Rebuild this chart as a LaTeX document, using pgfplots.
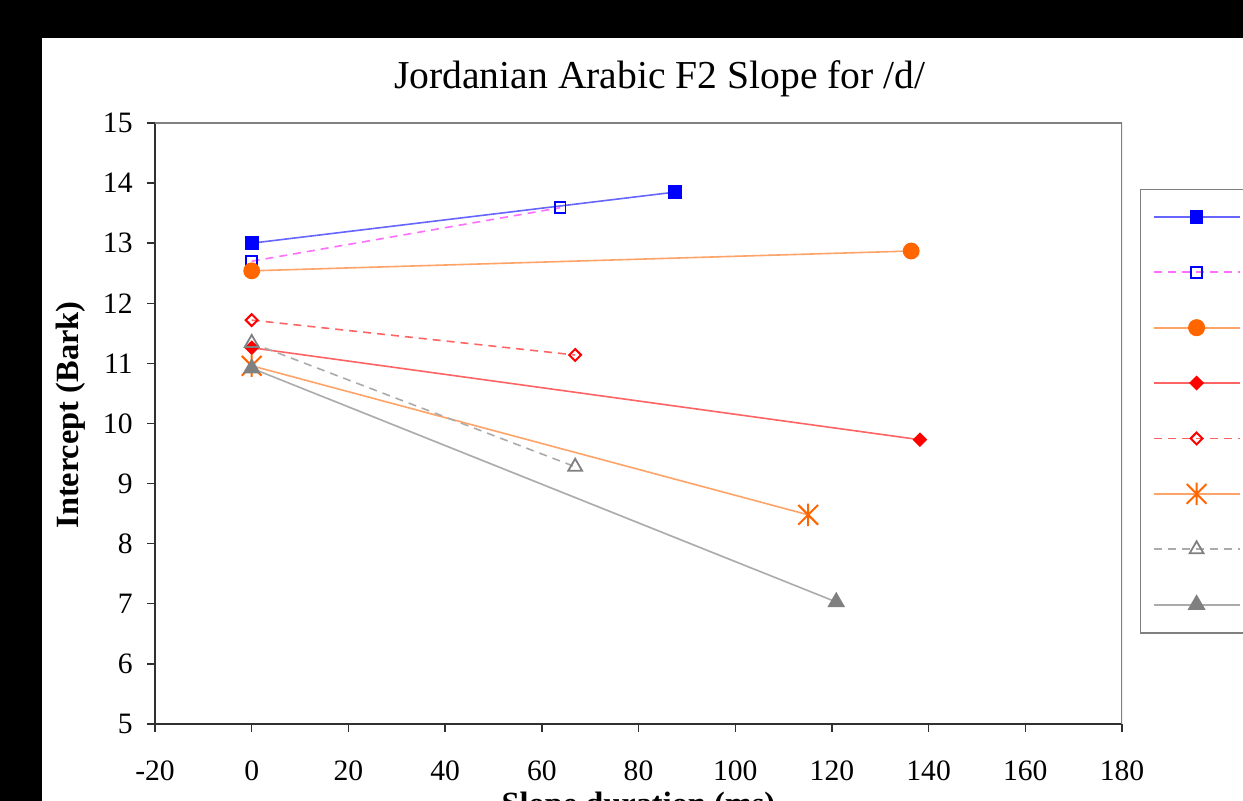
\documentclass[border=0pt]{standalone}
\usepackage{fontspec}
\setmainfont{Liberation Serif}
\usepackage{pgfplots}
\pgfplotsset{compat=1.18}

\definecolor{blueMk}{HTML}{0000FF}
\definecolor{blueLn}{HTML}{6666FF}
\definecolor{magLn}{HTML}{FF6EFF}
\definecolor{orgMk}{HTML}{FF6600}
\definecolor{orgLn}{HTML}{FFA468}
\definecolor{redMk}{HTML}{FF0000}
\definecolor{redLn}{HTML}{FF6464}
\definecolor{grayMk}{HTML}{808080}
\definecolor{grayLn}{HTML}{ABABAB}
\definecolor{frameGray}{HTML}{808080}
\definecolor{axisDark}{HTML}{303030}

% six-armed star: a vertical bar crossed by an X
\pgfdeclareplotmark{starx}{%
  \pgfpathmoveto{\pgfqpoint{0pt}{\pgfplotmarksize}}%
  \pgfpathlineto{\pgfqpoint{0pt}{-\pgfplotmarksize}}%
  \pgfpathmoveto{\pgfqpoint{-0.88\pgfplotmarksize}{0.88\pgfplotmarksize}}%
  \pgfpathlineto{\pgfqpoint{0.88\pgfplotmarksize}{-0.88\pgfplotmarksize}}%
  \pgfpathmoveto{\pgfqpoint{-0.88\pgfplotmarksize}{-0.88\pgfplotmarksize}}%
  \pgfpathlineto{\pgfqpoint{0.88\pgfplotmarksize}{0.88\pgfplotmarksize}}%
  \pgfusepathqstroke}

\begin{document}
\begin{tikzpicture}
\useasboundingbox (0,0) rectangle (621.5pt,400.5pt);
\clip (0,0) rectangle (621.5pt,400.5pt);
\fill[black] (0,0) rectangle (621.5pt,400.5pt);
\fill[white] (21pt,0) rectangle (621.5pt,381.5pt);
\begin{axis}[
  at={(77.5pt,38.5pt)}, anchor=south west,
  scale only axis, width=483.5pt, height=300.5pt,
  xmin=-20, xmax=180, ymin=5, ymax=15,
  xtick={-20,0,20,40,60,80,100,120,140,160,180},
  ytick={5,6,7,8,9,10,11,12,13,14,15},
  axis x line*=bottom, axis y line*=left,
  axis line style={-, draw=axisDark, line width=0.7pt},
  tick align=outside, major tick length=4pt,
  tick style={draw=axisDark, line width=0.7pt},
  /pgf/number format/assume math mode=true,
  tick label style={font=\fontsize{14.8}{17}\selectfont},
  xticklabel style={inner sep=0pt, anchor=north, yshift=-14pt},
  yticklabel style={inner sep=0pt, anchor=east, xshift=-7pt},
  title={Jordanian Arabic F2 Slope for /d/},
  every axis title shift=0pt,
  title style={font=\fontsize{19.8}{22}\selectfont, inner sep=0pt,
    at={(axis description cs:0.522,1.058)}, anchor=base, yshift=0pt},
  xlabel={Slope duration (ms)},
  xlabel style={font=\fontsize{16.2}{19}\selectfont\bfseries, inner sep=0pt,
    at={(axis description cs:0.5,-0.113)}, anchor=north},
  ylabel={Intercept (Bark)},
  ylabel style={font=\fontsize{16.2}{19}\selectfont\bfseries, inner sep=0pt,
    at={(axis description cs:-0.0869,0.514)}, anchor=center},
  legend style={at={(axis description cs:1.0186,0.8902)}, anchor=north west,
    draw=frameGray, line width=0.7pt, inner xsep=6pt, inner ysep=0pt,
    row sep=0pt, column sep=0pt,
    nodes={inner sep=0pt, minimum height=27.7pt}},
  legend cell align=left,
  legend image code/.code={%
    \draw[mark repeat=2, mark phase=2, line width=0.9pt]
      plot coordinates {(0pt,0.25pt) (21.5pt,0.25pt) (43pt,0.25pt)};},
  every axis plot/.append style={line width=0.8pt},
]
\draw[frameGray, line width=0.7pt] (rel axis cs:0,1) -- (rel axis cs:1,1) -- (rel axis cs:1,0);

\addplot[draw=blueLn, mark=square*, mark size=3pt,
  mark options={solid, fill=blueMk, draw=blueMk}]
  coordinates {(0,13.00) (87.6,13.85)};
\addlegendentry{\hspace*{40pt}}

\addplot[draw=magLn, dash pattern=on 4pt off 3pt, mark=square, mark size=2.7pt,
  mark options={solid, draw=blueMk, line width=0.9pt}]
  coordinates {(0,12.70) (63.8,13.59)};
\addlegendentry{\hspace*{40pt}}

\addplot[draw=orgLn, mark=*, mark size=3.8pt,
  mark options={solid, fill=orgMk, draw=orgMk}]
  coordinates {(0,12.54) (136.4,12.87)};
\addlegendentry{\hspace*{40pt}}

\addplot[draw=redLn, mark=square*, mark size=2.2pt,
  mark options={solid, rotate=45, fill=redMk, draw=redMk}]
  coordinates {(0,11.26) (138.2,9.73)};
\addlegendentry{\hspace*{40pt}}

\addplot[draw=redLn, dash pattern=on 4pt off 3pt, mark=square, mark size=2.1pt,
  mark options={solid, rotate=45, draw=redMk, line width=1pt}]
  coordinates {(0,11.72) (66.9,11.14)};
\addlegendentry{\hspace*{40pt}}

\addplot[draw=orgLn, mark=starx, mark size=5.6pt,
  mark options={solid, draw=orgMk, line width=1pt}]
  coordinates {(0,10.96) (115.1,8.48)};
\addlegendentry{\hspace*{40pt}}

\addplot[draw=grayLn, dash pattern=on 4pt off 3pt, mark=triangle, mark size=4pt,
  mark options={solid, draw=grayMk, line width=0.9pt}]
  coordinates {(0,11.34) (66.9,9.28)};
\addlegendentry{\hspace*{40pt}}

\addplot[draw=grayLn, mark=triangle*, mark size=4.3pt,
  mark options={solid, fill=grayMk, draw=grayMk}]
  coordinates {(0,10.92) (120.9,7.03)};
\addlegendentry{\hspace*{40pt}}
\end{axis}
\end{tikzpicture}
\end{document}
